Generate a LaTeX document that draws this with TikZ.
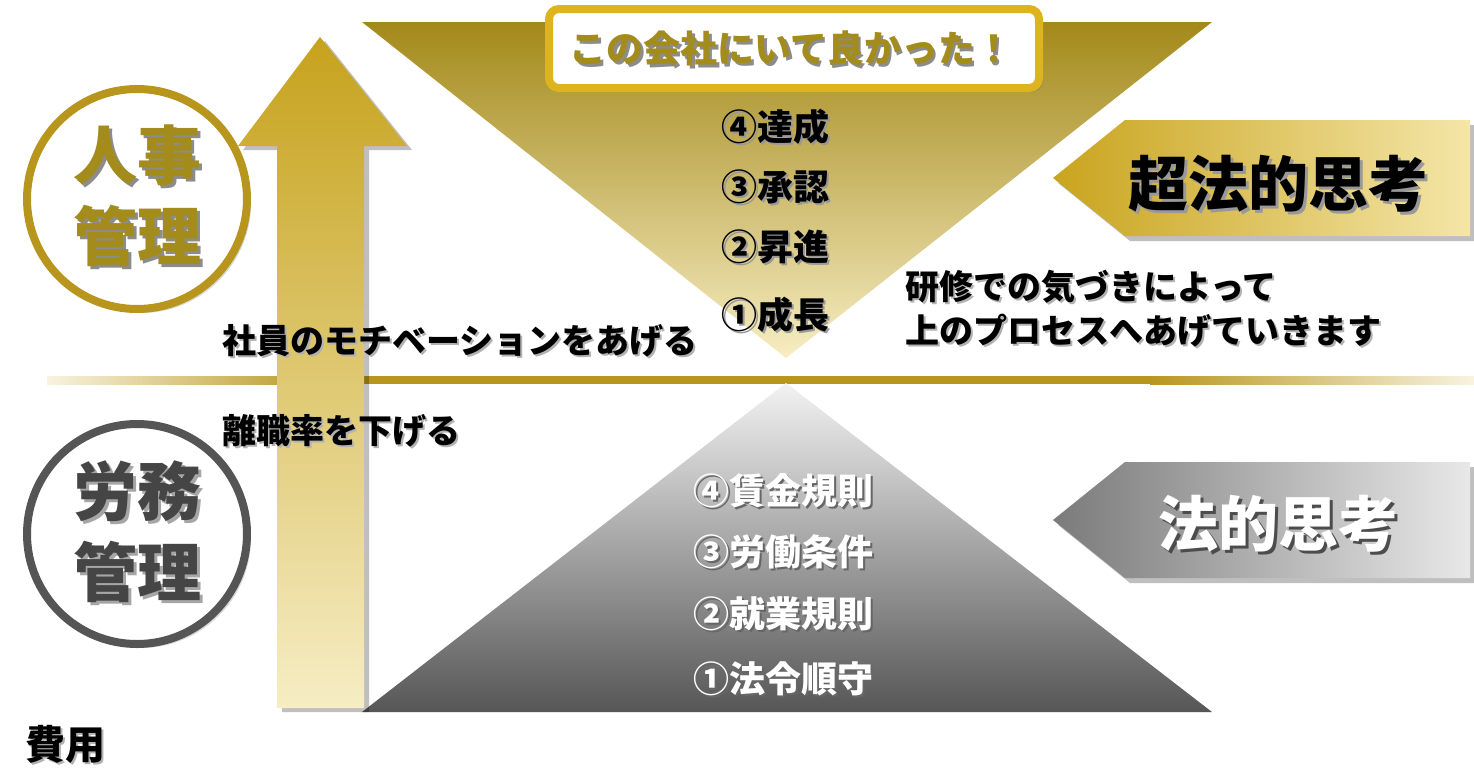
\documentclass[tikz,border=0pt]{standalone}
\usepackage{fontspec}
\setmainfont{Noto Sans CJK JP}
\usetikzlibrary{shadows}
\definecolor{goldTop}{HTML}{A3891A}
\definecolor{goldMid}{HTML}{CFB036}
\definecolor{goldPale}{HTML}{F7EDC2}
\definecolor{arrTop}{HTML}{C6A21C}
\definecolor{arrMid}{HTML}{DCB826}
\definecolor{arrBot}{HTML}{F6EDC4}
\definecolor{lineGold}{HTML}{B8961E}
\definecolor{linePale}{HTML}{F8F3E0}
\definecolor{circGold}{HTML}{B8961E}
\definecolor{olive}{HTML}{A38B1C}
\definecolor{boxGold}{HTML}{DDB420}
\definecolor{banGold}{HTML}{C9A41E}
\definecolor{banGoldM}{HTML}{D9B630}
\definecolor{banPale}{HTML}{F4E6A8}
\definecolor{grayTop}{HTML}{F2F2F2}
\definecolor{grayBot}{HTML}{565656}
\definecolor{circGray}{HTML}{555555}
\definecolor{txtGray}{HTML}{454545}
\newcommand\stx[3]{\leavevmode\rlap{\kern#1\raisebox{-#1}{\textcolor{#2}{#3}}}#3}
\tikzset{
  shd/.style={fill=black, opacity=0.25},
  txt/.style={inner sep=0pt, font=\bfseries\fontsize{34}{40}\selectfont},
  item/.style={inner sep=0pt, anchor=west, font=\bfseries\fontsize{36}{42}\selectfont},
  big/.style={inner sep=0pt, font=\bfseries\fontsize{60}{66}\selectfont},
  circ/.style={circle, line width=8pt, fill=white, minimum size=220pt,
    drop shadow={opacity=0.3, shadow xshift=4pt, shadow yshift=-4pt}},
  ctext/.style={inner sep=0pt, font=\bfseries\fontsize{64}{70}\selectfont}
}
\begin{document}
\begin{tikzpicture}[x=1pt,y=-1pt]
\fill[white] (0,0) rectangle (1474,769);
\useasboundingbox (0,0) rectangle (1474,769);

% top inverted triangle
\shade[top color=goldTop, middle color=goldMid, bottom color=goldPale]
  (362,22) -- (1212,22) -- (786,358) -- cycle;

% horizontal divider
\shade[left color=linePale, right color=lineGold] (47,376) rectangle (330,384);
\fill[lineGold] (330,376) rectangle (1150,384);
\shade[left color=lineGold, right color=linePale] (1150,376) rectangle (1474,384);

% bottom triangle
\shade[top color=grayTop, bottom color=grayBot]
  (786,383) -- (1212,712) -- (362,712) -- cycle;

% up arrow
\fill[shd, shift={(5,4)}] (320,37) -- (407,146) -- (364,146) -- (364,708) -- (277,708) -- (277,146) -- (238,146) -- cycle;
\shade[top color=arrTop, middle color=arrMid, bottom color=arrBot]
  (320,37) -- (407,146) -- (364,146) -- (364,708) -- (277,708) -- (277,146) -- (238,146) -- cycle;

% circles
\node[circ, draw=circGold] (c1) at (137,199) {};
\node[ctext, text=olive] (c1a) at (137,157) {\stx{3pt}{black!45}{人事}};
\node[ctext, text=olive] (c1b) at (137,237) {\stx{3pt}{black!45}{管理}};
\node[circ, draw=circGray] (c2) at (137,534) {};
\node[ctext, text=txtGray] (c2a) at (137,493) {\stx{3pt}{black!35}{労務}};
\node[ctext, text=txtGray] (c2b) at (137,573) {\stx{3pt}{black!35}{管理}};

% callout box
\node[draw=boxGold, line width=8pt, fill=white, rounded corners=10pt,
  minimum width=490pt, minimum height=79pt,
  drop shadow={opacity=0.3, shadow xshift=4pt, shadow yshift=-4pt}] (box) at (794,48.5) {};
\node[inner sep=0pt, text=olive, font=\bfseries\fontsize{37}{42}\selectfont] (boxt) at (791,50)
  {\stx{2.5pt}{black!45}{この会社にいて良かった！}};

% gold items
\node[item] (g4) at (721,128) {\stx{2.5pt}{black!40}{④達成}};
\node[item] (g3) at (721,188) {\stx{2.5pt}{black!40}{③承認}};
\node[item] (g2) at (721,248) {\stx{2.5pt}{black!40}{②昇進}};
\node[item] (g1) at (721,316) {\stx{2.5pt}{black!40}{①成長}};

% gray items
\node[item, text=white] (w4) at (693,492) {\stx{2.5pt}{black!60}{④賃金規則}};
\node[item, text=white] (w3) at (693,553) {\stx{2.5pt}{black!60}{③労働条件}};
\node[item, text=white] (w2) at (693,615) {\stx{2.5pt}{black!60}{②就業規則}};
\node[item, text=white] (w1) at (693,680) {\stx{2.5pt}{black!60}{①法令順守}};

% banners
\fill[shd, shift={(5,5)}] (1053,178) -- (1125,120) -- (1470,120) -- (1470,236) -- (1125,236) -- cycle;
\shade[left color=banGold, middle color=banGoldM, right color=banPale]
  (1053,178) -- (1125,120) -- (1470,120) -- (1470,236) -- (1125,236) -- cycle;
\node[big] (b1) at (1278,185) {\stx{3pt}{black!40}{超法的思考}};

\fill[shd, shift={(5,5)}] (1053,520) -- (1125,462) -- (1470,462) -- (1470,578) -- (1125,578) -- cycle;
\shade[left color=black!52, middle color=black!42, right color=black!9]
  (1053,520) -- (1125,462) -- (1470,462) -- (1470,578) -- (1125,578) -- cycle;
\node[big, text=white] (b2) at (1278,525) {\stx{3pt}{black!70}{法的思考}};

% side texts
\node[txt, anchor=west] (t1) at (222,342) {\stx{2pt}{black!30}{社員のモチベーションをあげる}};
\node[txt, anchor=west] (t2) at (905,288) {\stx{2pt}{black!30}{研修での気づきによって}};
\node[txt, anchor=west] (t3) at (905,332) {\stx{2pt}{black!30}{上のプロセスへあげていきます}};
\node[txt, anchor=west] (t4) at (222,432) {\stx{2pt}{black!30}{離職率を下げる}};
\node[inner sep=0pt, anchor=west, font=\bfseries\fontsize{40}{46}\selectfont] (t5) at (25,745) {\stx{2pt}{black!30}{費用}};
\end{tikzpicture}
\end{document}
